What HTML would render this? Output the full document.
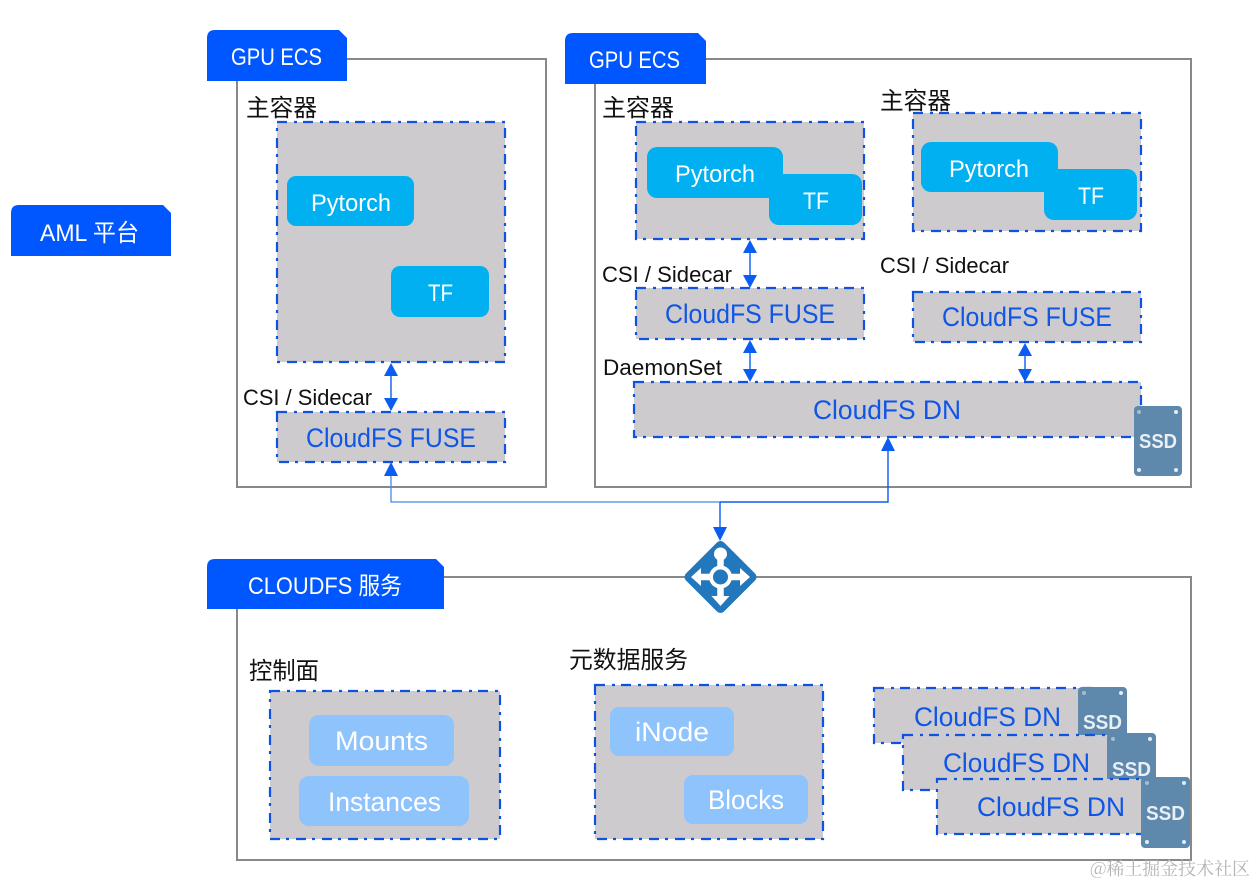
<!DOCTYPE html>
<html><head><meta charset="utf-8"><style>
html,body{margin:0;padding:0;background:#fff}
svg{display:block}
text{font-family:"Liberation Sans","Noto Sans CJK SC",sans-serif}
.f{fill:none;stroke:#888;stroke-width:2}
.g{fill:#cdcbcd;stroke:#0d52e0;stroke-width:2.2;stroke-dasharray:10 7 3 6}
.t{fill:#0057ff}
.w{fill:#fff;font-size:24px}
.m{fill:#fff;font-size:27px}
.k{fill:#111;font-size:22px}
.z{fill:#111;font-size:24px;font-family:"Noto Sans CJK SC","Liberation Sans",sans-serif}
.b{fill:#0f55e6;font-size:27px}
.p{fill:#00b0f0}
.l{fill:#8fc3fb}
.a{stroke:#0b5cf0;stroke-width:1.4;fill:none}
.h{fill:#0b5cf0}
.s{fill:#5f88ad}
.d{fill:#e4edf4}
.st{fill:#e8eff5;font-size:20px;font-weight:bold}
</style></head><body>
<svg width="1256" height="886" viewBox="0 0 1256 886" xmlns="http://www.w3.org/2000/svg">
<rect width="1256" height="886" fill="#fff"/>

<!-- frames -->
<rect class="f" x="237" y="59" width="309" height="428"/>
<rect class="f" x="595" y="59" width="596" height="428"/>
<rect class="f" x="237" y="577" width="954" height="283"/>

<!-- tabs -->
<path class="t" d="M207 81V38q0-8 8-8H339l8 8V81Z"/>
<text class="w" x="231" y="65" textLength="91" lengthAdjust="spacingAndGlyphs">GPU ECS</text>
<path class="t" d="M565 84V41q0-8 8-8H698l8 8V84Z"/>
<text class="w" x="589" y="68" textLength="91" lengthAdjust="spacingAndGlyphs">GPU ECS</text>
<path class="t" d="M207 609V567q0-8 8-8H436l8 8V609Z"/>
<text class="w" x="248" y="594" textLength="154" lengthAdjust="spacingAndGlyphs">CLOUDFS 服务</text>
<path class="t" d="M11 256V213q0-8 8-8H163l8 8V256Z"/>
<text class="w" x="40" y="241" textLength="99" lengthAdjust="spacingAndGlyphs">AML 平台</text>

<!-- left ECS -->
<text class="z" x="246" y="116" textLength="71" lengthAdjust="spacingAndGlyphs">主容器</text>
<rect class="g" x="277" y="122" width="228" height="240"/>
<rect class="p" x="287" y="176" width="127" height="50" rx="9"/>
<text class="w" x="311" y="211" textLength="80" lengthAdjust="spacingAndGlyphs">Pytorch</text>
<rect class="p" x="391" y="266" width="98" height="51" rx="9"/>
<text class="w" x="428" y="301" textLength="25" lengthAdjust="spacingAndGlyphs">TF</text>
<text class="k" x="243" y="405" textLength="129" lengthAdjust="spacingAndGlyphs">CSI / Sidecar</text>
<rect class="g" x="277" y="412" width="228" height="50"/>
<text class="b" x="306" y="447" textLength="170" lengthAdjust="spacingAndGlyphs">CloudFS FUSE</text>

<!-- right ECS -->
<text class="z" x="602" y="116" textLength="72" lengthAdjust="spacingAndGlyphs">主容器</text>
<rect class="g" x="636" y="122" width="228" height="117"/>
<rect class="p" x="647" y="147" width="136" height="51" rx="10"/>
<rect class="p" x="769" y="174" width="93" height="51" rx="10"/>
<text class="w" x="675" y="182" textLength="80" lengthAdjust="spacingAndGlyphs">Pytorch</text>
<text class="w" x="803" y="209" textLength="26" lengthAdjust="spacingAndGlyphs">TF</text>

<text class="z" x="880" y="109" textLength="71" lengthAdjust="spacingAndGlyphs">主容器</text>
<rect class="g" x="913" y="113" width="228" height="118"/>
<rect class="p" x="921" y="142" width="137" height="50" rx="10"/>
<rect class="p" x="1044" y="169" width="93" height="51" rx="10"/>
<text class="w" x="949" y="177" textLength="80" lengthAdjust="spacingAndGlyphs">Pytorch</text>
<text class="w" x="1078" y="204" textLength="26" lengthAdjust="spacingAndGlyphs">TF</text>

<text class="k" x="602" y="282" textLength="130" lengthAdjust="spacingAndGlyphs">CSI / Sidecar</text>
<text class="k" x="880" y="273" textLength="129" lengthAdjust="spacingAndGlyphs">CSI / Sidecar</text>
<rect class="g" x="636" y="288" width="228" height="51"/>
<text class="b" x="665" y="323" textLength="170" lengthAdjust="spacingAndGlyphs">CloudFS FUSE</text>
<rect class="g" x="913" y="292" width="228" height="50"/>
<text class="b" x="942" y="326" textLength="170" lengthAdjust="spacingAndGlyphs">CloudFS FUSE</text>
<text class="k" x="603" y="375" textLength="119" lengthAdjust="spacingAndGlyphs">DaemonSet</text>
<rect class="g" x="634" y="382" width="507" height="55"/>
<text class="b" x="813" y="419" textLength="148" lengthAdjust="spacingAndGlyphs">CloudFS DN</text>

<!-- SSD right -->
<rect class="s" x="1134" y="406" width="48" height="70" rx="4"/>
<circle cx="1139" cy="412" r="2" fill="#a9bccd"/><circle class="d" cx="1176" cy="412" r="2"/><circle class="d" cx="1139" cy="470" r="2"/><circle class="d" cx="1176" cy="470" r="2"/>
<text class="st" x="1139" y="448" textLength="38" lengthAdjust="spacingAndGlyphs">SSD</text>

<!-- double arrows -->
<path class="a" d="M391 372V402"/><path class="h" d="M391 363l7 13h-14ZM391 411l7-13h-14Z"/>
<path class="a" d="M750 248V279"/><path class="h" d="M750 240l7 13h-14ZM750 288l7-13h-14Z"/>
<path class="a" d="M750 348V373"/><path class="h" d="M750 340l7 13h-14ZM750 382l7-13h-14Z"/>
<path class="a" d="M1025 351V373"/><path class="h" d="M1025 343l7 13h-14ZM1025 382l7-13h-14Z"/>

<!-- connectors -->
<path d="M391 472V502H720" fill="none" stroke="#4a86f2" stroke-width="1.3"/>
<path class="a" d="M720 502H888V447M720 502V532"/>
<path class="h" d="M391 462l7 14h-14ZM888 437l7 14h-14ZM720 541l-7-14h14Z"/>

<!-- diamond -->
<path d="M720.5 546L751.5 577L720.5 608L689.5 577Z" fill="#2277bd" stroke="#2277bd" stroke-width="10" stroke-linejoin="round"/>
<g stroke="#fff" stroke-width="6.5" fill="none"><path d="M720.5 556V598M699 577H742"/></g>
<circle cx="720.5" cy="554" r="6.5" fill="#fff"/>
<circle cx="720.5" cy="577" r="11.5" fill="#fff"/>
<circle cx="720.5" cy="577" r="7.5" fill="#2277bd"/>
<path fill="#fff" d="M691 577l10-9v18ZM750 577l-10-9v18ZM720.5 606l-9-10h18Z"/>

<!-- control plane -->
<text class="z" x="249" y="679" textLength="70" lengthAdjust="spacingAndGlyphs">控制面</text>
<rect class="g" x="270" y="691" width="230" height="148"/>
<rect class="l" x="309" y="715" width="145" height="51" rx="10"/>
<text class="m" x="335" y="750" textLength="93" lengthAdjust="spacingAndGlyphs">Mounts</text>
<rect class="l" x="299" y="776" width="170" height="50" rx="10"/>
<text class="m" x="328" y="811" textLength="113" lengthAdjust="spacingAndGlyphs">Instances</text>

<!-- metadata -->
<text class="z" x="569" y="668" textLength="119" lengthAdjust="spacingAndGlyphs">元数据服务</text>
<rect class="g" x="595" y="685" width="228" height="154"/>
<rect class="l" x="610" y="707" width="124" height="49" rx="9"/>
<text class="m" x="635" y="741" textLength="74" lengthAdjust="spacingAndGlyphs">iNode</text>
<rect class="l" x="684" y="775" width="124" height="49" rx="9"/>
<text class="m" x="708" y="809" textLength="76" lengthAdjust="spacingAndGlyphs">Blocks</text>

<!-- DN stack -->
<rect class="g" x="874" y="688" width="220" height="55"/>
<text class="b" x="914" y="726" textLength="147" lengthAdjust="spacingAndGlyphs">CloudFS DN</text>
<rect class="s" x="1078" y="687" width="49" height="70" rx="4"/>
<circle cx="1084" cy="693" r="2" fill="#a9bccd"/><circle class="d" cx="1121" cy="693" r="2"/>
<text class="st" x="1083" y="729" textLength="39" lengthAdjust="spacingAndGlyphs">SSD</text>

<rect class="g" x="903" y="735" width="220" height="55"/>
<text class="b" x="943" y="772" textLength="147" lengthAdjust="spacingAndGlyphs">CloudFS DN</text>
<rect class="s" x="1107" y="733" width="49" height="70" rx="4"/>
<circle cx="1113" cy="739" r="2" fill="#a9bccd"/><circle class="d" cx="1150" cy="739" r="2"/>
<text class="st" x="1112" y="776" textLength="39" lengthAdjust="spacingAndGlyphs">SSD</text>

<rect class="g" x="937" y="779" width="220" height="55"/>
<text class="b" x="977" y="816" textLength="148" lengthAdjust="spacingAndGlyphs">CloudFS DN</text>
<rect class="s" x="1141" y="777" width="49" height="71" rx="4"/>
<circle cx="1147" cy="783" r="2" fill="#a9bccd"/><circle class="d" cx="1184" cy="783" r="2"/><circle class="d" cx="1147" cy="842" r="2"/><circle class="d" cx="1184" cy="842" r="2"/>
<text class="st" x="1146" y="820" textLength="39" lengthAdjust="spacingAndGlyphs">SSD</text>

<!-- watermark -->
<text x="1090" y="875" textLength="160" lengthAdjust="spacingAndGlyphs" style="font-size:18px;fill:#b4b4b4;font-family:'Noto Serif CJK SC','Liberation Sans',serif">@稀土掘金技术社区</text>
</svg>
</body></html>
